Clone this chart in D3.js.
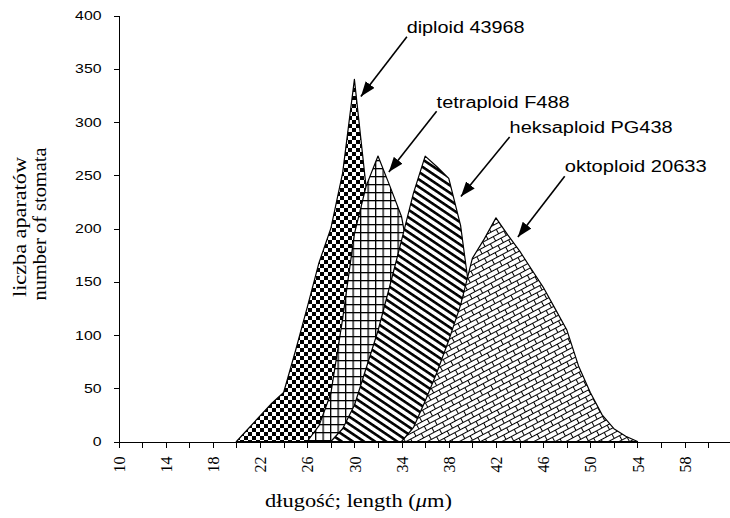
<!DOCTYPE html>
<meta charset="utf-8">
<html lang="pl">
<style>
    body {
        margin: 0;
        background: #fff;
    }
    .axis path,
    .axis line {
        fill: none;
        stroke: #000;
        shape-rendering: crispEdges;
    }
    .area {
        stroke: #000;
        stroke-width: 1.2px;
        stroke-linejoin: round;
    }
</style>
<head>
    <script src="https://d3js.org/d3.v7.min.js"></script>
</head>
<body>
<svg width="730" height="518"></svg>
<script>

    // stomata length classes (um)
    var lengths = [20, 21, 22, 23, 24, 25, 26, 27, 28, 29, 30, 31, 32, 33, 34, 35, 36, 37,
        38, 39, 40, 41, 42, 43, 44, 45, 46, 47, 48, 49, 50, 51, 52, 53, 54];

    var diploid = [0, 12, 24, 36, 46, 85, 126, 168, 200, 252, 340, 238, 150, 70, 20, 0, 0, 0,
        0, 0, 0, 0, 0, 0, 0, 0, 0, 0, 0, 0, 0, 0, 0, 0, 0];
    var tetraploid = [0, 0, 0, 0, 0, 0, 0, 15, 45, 115, 195, 240, 268, 240, 211, 150, 90, 40,
        12, 0, 0, 0, 0, 0, 0, 0, 0, 0, 0, 0, 0, 0, 0, 0, 0];
    var heksaploid = [0, 0, 0, 0, 0, 0, 0, 0, 0, 12, 34, 69, 104, 146, 189, 233, 268, 258,
        247, 203, 120, 50, 12, 0, 0, 0, 0, 0, 0, 0, 0, 0, 0, 0, 0];
    var oktoploid = [0, 0, 0, 0, 0, 0, 0, 0, 0, 0, 0, 0, 0, 0, 0, 13, 38, 65,
        95, 128, 172, 190, 210, 194, 179, 162, 145, 125, 105, 71, 46, 25, 12, 5, 0];

    var seriesNames = ["diploid 43968", "tetraploid F488", "heksaploid PG438", "oktoploid 20633"];

    var xTickMarks = [10, 12, 14, 16, 18, 20, 22, 24, 26, 28, 30, 32, 34, 36, 38, 40, 42, 44,
        46, 48, 50, 52, 54, 56, 58, 60];
    var xTickLabels = [10, 14, 18, 22, 26, 30, 34, 38, 42, 46, 50, 54, 58];
    var yTicks = [0, 50, 100, 150, 200, 250, 300, 350, 400];

    var svg = d3.select("svg");

    var x = d3.scaleLinear().domain([10, 61.8]).range([118.5, 729.5]);
    var y = d3.scaleLinear().domain([0, 400]).range([441.5, 15.5]);

    // fill patterns
    var defs = svg.append("defs");

    var checker = defs.append("pattern").attr("id", "p-checker")
        .attr("patternUnits", "userSpaceOnUse").attr("width", 8).attr("height", 8);
    checker.append("rect").attr("width", 8).attr("height", 8).attr("fill", "#fff");
    checker.append("rect").attr("width", 4).attr("height", 4).attr("fill", "#000");
    checker.append("rect").attr("x", 4).attr("y", 4).attr("width", 4).attr("height", 4).attr("fill", "#000");

    var grid = defs.append("pattern").attr("id", "p-grid")
        .attr("patternUnits", "userSpaceOnUse").attr("width", 7.5).attr("height", 8);
    grid.append("rect").attr("width", 7.5).attr("height", 8).attr("fill", "#fff");
    grid.append("rect").attr("width", 1.3).attr("height", 8).attr("fill", "#000");
    grid.append("rect").attr("width", 7.5).attr("height", 1.3).attr("fill", "#000");

    var stripes = defs.append("pattern").attr("id", "p-stripes")
        .attr("patternUnits", "userSpaceOnUse").attr("width", 10).attr("height", 6.2)
        .attr("patternTransform", "rotate(34)");
    stripes.append("rect").attr("width", 10).attr("height", 6.2).attr("fill", "#fff");
    stripes.append("rect").attr("width", 10).attr("height", 2.6).attr("fill", "#000");

    var brick = defs.append("pattern").attr("id", "p-brick")
        .attr("patternUnits", "userSpaceOnUse").attr("width", 12).attr("height", 10)
        .attr("patternTransform", "rotate(-28)");
    brick.append("rect").attr("width", 12).attr("height", 10).attr("fill", "#fff");
    brick.append("path")
        .attr("d", "M0,0.5H12M0,5.5H12M0.5,0V5.5M6.5,5.5V10")
        .attr("stroke", "#000").attr("stroke-width", 1).attr("fill", "none");

    var fills = ["url(#p-checker)", "url(#p-grid)", "url(#p-stripes)", "url(#p-brick)"];
    var allSeries = [diploid, tetraploid, heksaploid, oktoploid];

    var area = d3.area()
        .x(function (d) { return x(d[0]); })
        .y0(y(0))
        .y1(function (d) { return y(d[1]); });

    // later series drawn on top, as in the original
    allSeries.forEach(function (values, i) {
        var pts = lengths.map(function (l, j) { return [l, values[j]]; });
        svg.append("path")
            .datum(pts)
            .attr("class", "area")
            .attr("fill", fills[i])
            .attr("d", area);
    });

    // axes
    var xAxis = d3.axisBottom(x)
        .tickValues(xTickMarks)
        .tickSize(6)
        .tickSizeOuter(0)
        .tickFormat(function (d) { return xTickLabels.indexOf(d) >= 0 ? d : ""; });

    var gx = svg.append("g")
        .attr("class", "x axis")
        .attr("transform", "translate(0," + y(0) + ")")
        .call(xAxis);
    gx.selectAll("text")
        .attr("transform", "rotate(-90)")
        .attr("text-anchor", "end")
        .attr("x", -15)
        .attr("y", 0)
        .attr("dy", "0.35em")
        .style("font-family", "'Liberation Serif', 'Times New Roman', serif")
        .style("font-size", "16px")
        .attr("fill", "#000");

    var yAxis = d3.axisLeft(y)
        .tickValues(yTicks)
        .tickSize(5)
        .tickSizeOuter(0)
        .tickPadding(12);

    var gy = svg.append("g")
        .attr("class", "y axis")
        .attr("transform", "translate(" + x(10) + ",0)")
        .call(yAxis);
    gy.selectAll("text")
        .style("font-family", "'Liberation Sans', Arial, sans-serif")
        .style("font-size", "13px")
        .attr("fill", "#000")
        .attr("textLength", function (d) { return String(d).length * 8.8; })
        .attr("lengthAdjust", "spacingAndGlyphs");

    // axis titles
    svg.append("text")
        .attr("transform", "translate(26,227) rotate(-90)")
        .attr("text-anchor", "middle")
        .style("font-family", "'Liberation Serif', 'Times New Roman', serif")
        .style("font-size", "18px")
        .attr("textLength", 140)
        .attr("lengthAdjust", "spacingAndGlyphs")
        .text("liczba aparatów");

    svg.append("text")
        .attr("transform", "translate(46,224) rotate(-90)")
        .attr("text-anchor", "middle")
        .style("font-family", "'Liberation Serif', 'Times New Roman', serif")
        .style("font-size", "18px")
        .attr("textLength", 153)
        .attr("lengthAdjust", "spacingAndGlyphs")
        .text("number of stomata");

    var xTitle = svg.append("text")
        .attr("x", 265)
        .attr("y", 507)
        .style("font-family", "'Liberation Serif', 'Times New Roman', serif")
        .style("font-size", "19px")
        .attr("textLength", 187)
        .attr("lengthAdjust", "spacingAndGlyphs");
    xTitle.append("tspan").text("długość; length (");
    xTitle.append("tspan").style("font-style", "italic").text("μ");
    xTitle.append("tspan").text("m)");

    // annotations: label start, arrow start, arrow tip (data units)
    var labelPos = [[34.43, 384], [36.97, 313], [43.16, 290], [47.83, 253]];
    var labelWidth = [118, 133, 163, 142];
    var arrowFrom = [[34.45, 380], [36.97, 310], [43.16, 286], [47.83, 249]];
    var arrowTo = [[30.55, 324], [32.92, 253], [39.03, 230], [43.86, 192]];

    defs.append("marker")
        .attr("id", "arrowhead")
        .attr("markerUnits", "userSpaceOnUse")
        .attr("markerWidth", 16)
        .attr("markerHeight", 12)
        .attr("refX", 15)
        .attr("refY", 5.5)
        .attr("orient", "auto")
        .append("path")
        .attr("d", "M0,0 L15,5.5 L0,11 Z")
        .attr("fill", "#000");

    seriesNames.forEach(function (name, i) {
        svg.append("line")
            .attr("x1", x(arrowFrom[i][0]))
            .attr("y1", y(arrowFrom[i][1]))
            .attr("x2", x(arrowTo[i][0]))
            .attr("y2", y(arrowTo[i][1]))
            .attr("stroke", "#000")
            .attr("stroke-width", 1.6)
            .attr("marker-end", "url(#arrowhead)");

        svg.append("text")
            .attr("x", x(labelPos[i][0]))
            .attr("y", y(labelPos[i][1]))
            .style("font-family", "'Liberation Sans', Arial, sans-serif")
            .style("font-size", "16px")
            .attr("textLength", labelWidth[i])
            .attr("lengthAdjust", "spacingAndGlyphs")
            .text(name);
    });

</script>
</body>
</html>
